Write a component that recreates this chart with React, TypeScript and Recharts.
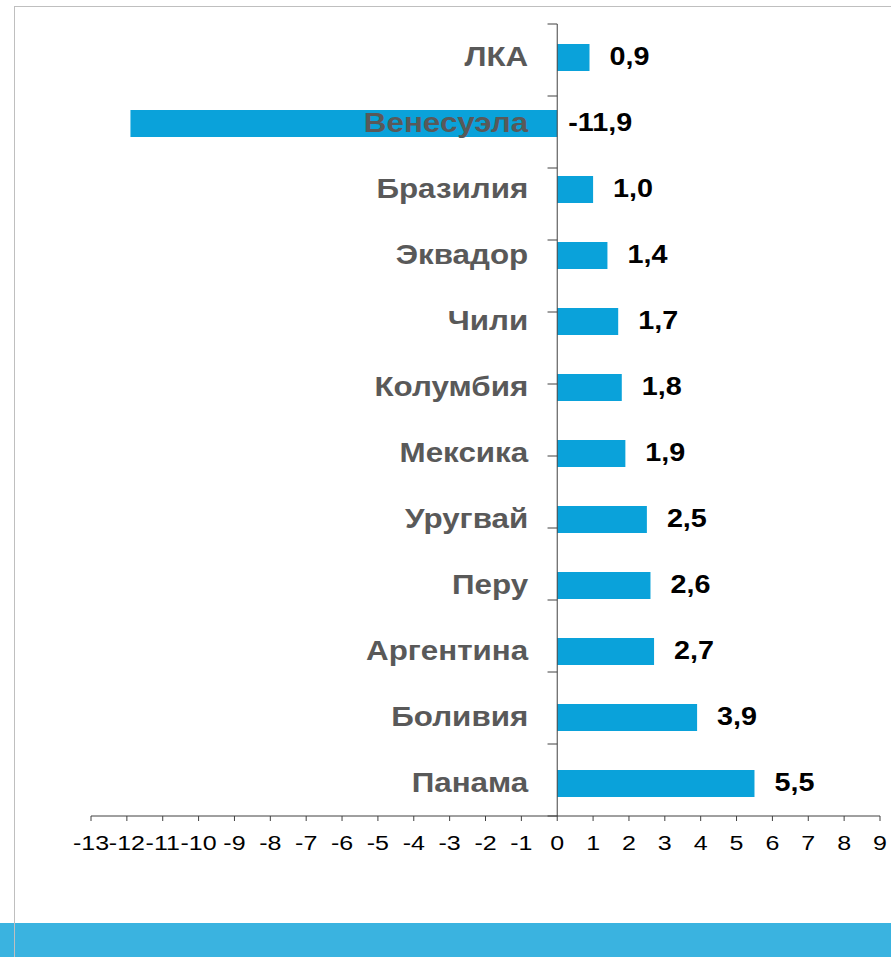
import React from "react";
import {
  Bar,
  BarChart,
  LabelList,
  ReferenceLine,
  XAxis,
  YAxis,
} from "recharts";

const countries = [
  "ЛКА",
  "Венесуэла",
  "Бразилия",
  "Эквадор",
  "Чили",
  "Колумбия",
  "Мексика",
  "Уругвай",
  "Перу",
  "Аргентина",
  "Боливия",
  "Панама",
];
const growth = [0.9, -11.9, 1.0, 1.4, 1.7, 1.8, 1.9, 2.5, 2.6, 2.7, 3.9, 5.5];
const xTicks = [
  -13, -12, -11, -10, -9, -8, -7, -6, -5, -4, -3, -2, -1, 0, 1, 2, 3, 4, 5, 6,
  7, 8, 9,
];
const bandEdges = [0, 1, 2, 3, 4, 5, 6, 7, 8, 9, 10, 11, 12];

const data = countries.map((name, i) => ({ name, value: growth[i] }));

const FONT = "'Liberation Sans', Arial, sans-serif";
const BAR = "#0aa2da";
const AXIS = "#404040";

const fmt = (v: number) => v.toFixed(1).replace(".", ",");

function XTick(props: any) {
  const { x, y, payload } = props;
  return (
    <g transform={`translate(${x},${y + 20}) scale(1.25,1)`}>
      <text
        x={0}
        y={0}
        textAnchor="middle"
        dominantBaseline="central"
        fontFamily={FONT}
        fontSize={20}
        fill="#000"
      >
        {payload.value}
      </text>
    </g>
  );
}

function BarLabels(props: any) {
  const vb = props.viewBox || props;
  const x = Number(vb.x);
  const w = Number(vb.width);
  const y = Number(vb.y);
  const h = Number(vb.height);
  const v = growth[props.index];
  const zero = v >= 0 ? Math.min(x, x + w) : Math.max(x, x + w);
  const end = v >= 0 ? Math.max(x, x + w) : zero;
  const cy = y + h / 2;
  return (
    <g>
      <g transform={`translate(${zero - 29},${cy - 1}) scale(1.12,1)`}>
        <text
          textAnchor="end"
          dominantBaseline="central"
          fontFamily={FONT}
          fontWeight="bold"
          fontSize={28}
          fill="#595959"
        >
          {countries[props.index]}
        </text>
      </g>
      <g transform={`translate(${end + (v >= 0 ? 20 : 11)},${cy - 1}) scale(1.15,1)`}>
        <text
          textAnchor="start"
          dominantBaseline="central"
          fontFamily={FONT}
          fontWeight="bold"
          fontSize={25}
          fill="#000"
        >
          {fmt(v)}
        </text>
      </g>
    </g>
  );
}

export default function App() {
  return (
    <div
      style={{
        position: "absolute",
        left: 0,
        top: 0,
        width: 891,
        height: 957,
        background: "#fff",
        overflow: "hidden",
      }}
    >
      <div
        style={{
          position: "absolute",
          left: 0,
          top: 923,
          width: 891,
          height: 34,
          background: "#3ab3e0",
        }}
      />
      <div
        style={{
          position: "absolute",
          left: 14,
          top: 6,
          width: 877,
          height: 951,
          borderTop: "1px solid #bfbfbf",
          borderLeft: "1px solid #bfbfbf",
          zIndex: 2,
        }}
      />
      <div style={{ position: "absolute", left: 0, top: 0, zIndex: 1 }}>
        <BarChart
          width={891}
          height={957}
          data={data}
          layout="vertical"
          margin={{ top: 24, right: 11, bottom: 111, left: 91 }}
          barCategoryGap={0}
        >
          <XAxis
            type="number"
            domain={[-13, 9]}
            ticks={xTicks}
            interval={0}
            height={30}
            stroke={AXIS}
            tickSize={5}
            tick={<XTick />}
            allowDataOverflow
          />
          <YAxis type="category" dataKey="name" hide />
          <YAxis yAxisId="grid" type="number" domain={[0, 12]} hide />
          <ReferenceLine x={0} stroke={AXIS} strokeWidth={1} />
          {bandEdges.map((k) => (
            <ReferenceLine
              key={k}
              yAxisId="grid"
              segment={[
                { x: -0.27, y: k },
                { x: 0, y: k },
              ]}
              stroke={AXIS}
              strokeWidth={1}
            />
          ))}
          <Bar
            dataKey="value"
            fill={BAR}
            barSize={27}
            isAnimationActive={false}
          >
            <LabelList dataKey="value" content={<BarLabels />} />
          </Bar>
        </BarChart>
      </div>
    </div>
  );
}
